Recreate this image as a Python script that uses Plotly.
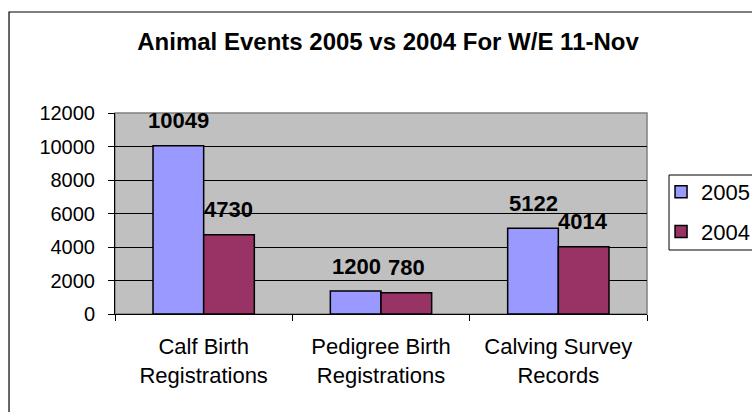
import plotly.graph_objects as go

categories = ["Calf Birth<br>Registrations", "Pedigree Birth<br>Registrations", "Calving Survey<br>Records"]
series_names = ["2005", "2004"]
values_2005 = [10049, 1370, 5122]
values_2004 = [4730, 1270, 4014]
labels_2005 = ["10049", "1200", "5122"]
labels_2004 = ["4730", "780", "4014"]
y_ticks = [0, 2000, 4000, 6000, 8000, 10000, 12000]
y_tick_text = [str(v) for v in y_ticks]

FONT = "Liberation Sans, Arial, sans-serif"
colors = ["#9999FF", "#993366"]

fig = go.Figure()
for name, vals, col in zip(series_names, [values_2005, values_2004], colors):
    fig.add_trace(go.Bar(
        x=categories, y=vals, name=name, legendgroup=name,
        marker=dict(color=col, line=dict(color="black", width=1.5)),
        hoverinfo="skip",
    ))

# data labels (as shown on the chart)
for vals, labs, shift in [(values_2005, labels_2005, -25), (values_2004, labels_2004, 25)]:
    for c, v, t in zip(categories, vals, labs):
        fig.add_annotation(x=c, y=v, text="<b>%s</b>" % t, showarrow=False,
                           xshift=shift, yshift=25, yanchor="middle",
                           font=dict(family=FONT, size=22, color="black"))

# outer chart border
fig.add_shape(type="rect", xref="paper", yref="paper",
              x0=-0.1992, x1=1.4, y0=-0.7, y1=1.5025,
              line=dict(color="black", width=1.2), layer="below")
# plot area border
fig.add_shape(type="rect", xref="paper", yref="paper", x0=0, x1=1, y0=0, y1=1,
              line=dict(color="#808080", width=1.5), layer="below")
# legend box
fig.add_shape(type="rect", xref="paper", yref="paper",
              x0=1.0414, x1=1.3, y0=0.3184, y1=0.6915,
              line=dict(color="black", width=1), fillcolor="white", layer="below")

fig.update_layout(
    width=752, height=412,
    margin=dict(l=115, r=105, t=113, b=98, autoexpand=False),
    paper_bgcolor="white", plot_bgcolor="#C0C0C0",
    barmode="group", bargap=0.4286, bargroupgap=0,
    title=dict(text="<b>Animal Events 2005 vs 2004 For W/E 11-Nov</b>",
               x=0.516, y=0.9, xanchor="center", yanchor="middle",
               font=dict(family=FONT, size=24, color="black")),
    legend=dict(x=1.0264, y=0.7114, xanchor="left", yanchor="top",
                font=dict(family=FONT, size=22, color="black"),
                borderwidth=0, bgcolor="rgba(0,0,0,0)",
                tracegroupgap=8, traceorder="grouped"),
    font=dict(family=FONT, color="black"),
    showlegend=True,
)
fig.update_xaxes(
    tickson="boundaries", ticks="outside", ticklen=6, tickcolor="black",
    showline=True, linecolor="black", linewidth=1,
    tickfont=dict(family=FONT, size=22, color="black"),
    ticklabelstandoff=13,
)
fig.update_yaxes(
    range=[0, 12000], tickvals=y_ticks, ticktext=y_tick_text,
    ticks="outside", ticklen=6, tickcolor="black",
    showline=True, linecolor="black", linewidth=1,
    showgrid=True, gridcolor="black", gridwidth=1, zeroline=False,
    tickfont=dict(family=FONT, size=20, color="black"),
    ticklabelstandoff=9,
)

fig.write_html("out.html", config={"displayModeBar": False},
               post_script="document.body.style.margin='0';")
